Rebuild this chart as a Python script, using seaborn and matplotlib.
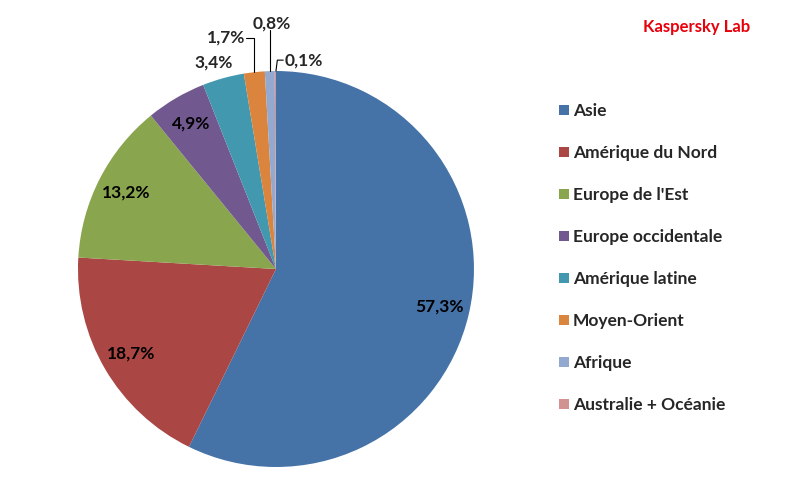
import numpy as np
import matplotlib
matplotlib.use("Agg")
import matplotlib.pyplot as plt
import seaborn as sns

regions = ["Asie", "Amérique du Nord", "Europe de l'Est", "Europe occidentale",
           "Amérique latine", "Moyen-Orient", "Afrique", "Australie + Océanie"]
shares = [57.3, 18.7, 13.2, 4.9, 3.4, 1.7, 0.8, 0.1]
pct_labels = ["57,3%", "18,7%", "13,2%", "4,9%", "3,4%", "1,7%", "0,8%", "0,1%"]
colors = ["#4572A7", "#AA4643", "#89A54E", "#71588F",
          "#4198AF", "#DB843D", "#93A9CF", "#D19392"]

sns.set_style("white")
plt.rcParams["font.family"] = ["Lato", "DejaVu Sans"]

fig = plt.figure(figsize=(7.91, 4.83), dpi=100)
ax = fig.add_axes([0.0986, 0.0331, 0.5006, 0.8199])

wedges, _ = ax.pie(shares, colors=colors, startangle=90, counterclock=False,
                   radius=1.0, wedgeprops=dict(linewidth=0))
ax.set_xlim(-1, 1)
ax.set_ylim(-1, 1)
ax.set_aspect("equal")
ax.axis("off")

fs = 12.5

# inner labels for the big slices
for w, lab in zip(wedges[:4], pct_labels[:4]):
    mid = np.deg2rad((w.theta1 + w.theta2) / 2)
    r = 0.85
    ax.text(r * np.cos(mid), r * np.sin(mid), lab, ha="center", va="center",
            fontsize=fs, fontweight="bold", color="black")

# outer labels for the small slices
def mid_pt(w, r=1.0):
    a = np.deg2rad((w.theta1 + w.theta2) / 2)
    return r * np.cos(a), r * np.sin(a)

x, y = mid_pt(wedges[4], 1.07)
ax.text(x - 0.03, y + 0.01, pct_labels[4], ha="center", va="center",
        fontsize=fs, fontweight="bold", clip_on=False)

# 1,7% with elbow leader
ex, ey = mid_pt(wedges[5], 1.0)
ax.plot([ex, ex, ex - 0.04], [ey, 1.165, 1.165], color="black", lw=0.8, clip_on=False)
ax.text(ex - 0.045, 1.17, pct_labels[5], ha="right", va="center",
        fontsize=fs, fontweight="bold", clip_on=False)

# 0,8% vertical leader
ex, ey = mid_pt(wedges[6], 1.0)
ax.plot([ex, ex], [ey, 1.205], color="black", lw=0.8, clip_on=False)
ax.text(ex + 0.01, 1.24, pct_labels[6], ha="center", va="center",
        fontsize=fs, fontweight="bold", clip_on=False)

# 0,1% short leader
ex, ey = mid_pt(wedges[7], 1.0)
ax.plot([ex + 0.003, ex + 0.01, ex + 0.04], [ey, 1.055, 1.055], color="black",
        lw=0.8, clip_on=False)
ax.text(ex + 0.045, 1.055, pct_labels[7], ha="left", va="center",
        fontsize=fs, fontweight="bold", clip_on=False)

fig.legend(wedges, regions, loc="upper left", bbox_to_anchor=(0.698, 0.801),
           frameon=False, prop=dict(size=fs, weight="bold"),
           handlelength=0.55, handleheight=0.55, handletextpad=0.25,
           labelspacing=1.50, borderaxespad=0)

fig.text(0.880, 0.944, "Kaspersky Lab", color="#E8000B", fontsize=12,
         fontweight="bold", ha="center", va="center")

fig.savefig("out.png", dpi=100, facecolor="white")
